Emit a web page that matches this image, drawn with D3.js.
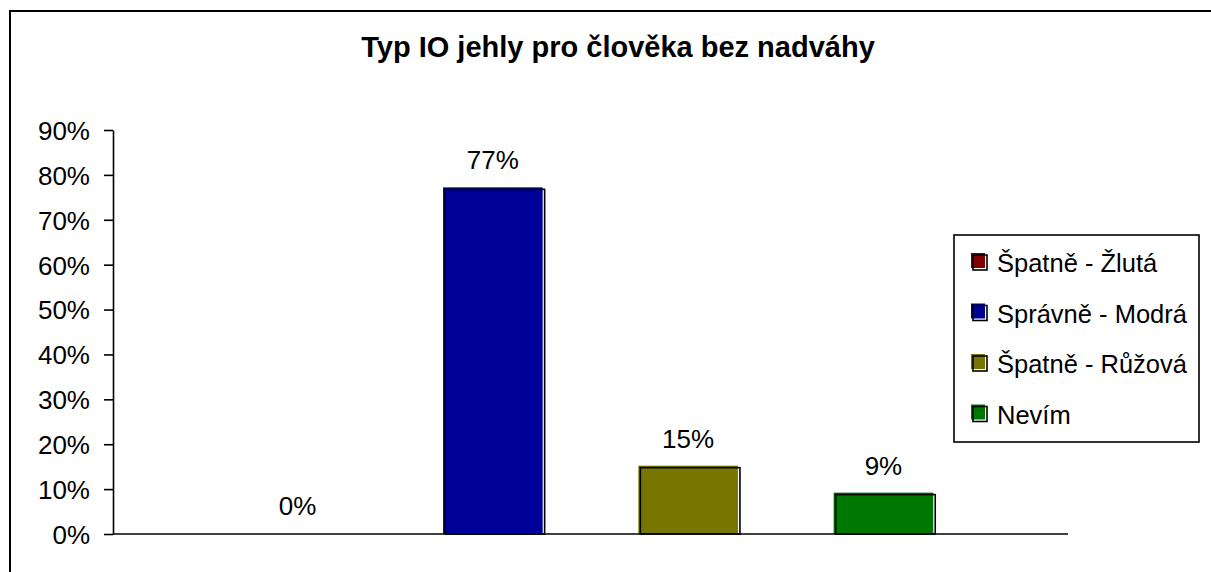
<!DOCTYPE html>
<html>
<head>
<meta charset="utf-8">
<script src="https://cdn.jsdelivr.net/npm/d3@7"></script>
<style>
  html, body { margin: 0; padding: 0; background: #fff; }
  svg { display: block; }
  text { font-family: "Liberation Sans", Arial, sans-serif; fill: #000; }
</style>
</head>
<body>
<svg id="chart" width="1211" height="572"></svg>
<script>
// Survey answers: which IO needle for a person without excess weight
const series = ["Špatně - Žlutá", "Správně - Modrá", "Špatně - Růžová", "Nevím"];
const values = [0, 77, 15, 9];
const colors = ["#800000", "#000099", "#777700", "#007700"];
const yTicks = [0, 10, 20, 30, 40, 50, 60, 70, 80, 90];
const title = "Typ IO jehly pro člověka bez nadváhy";

const svg = d3.select("#chart");
const W = 1211, H = 572;
const plot = { left: 113, right: 1068, top: 130, bottom: 534 };

// outer chart frame (runs off the right and bottom edges)
svg.append("rect")
  .attr("x", 10).attr("y", 11)
  .attr("width", W + 40).attr("height", H + 40)
  .attr("fill", "none").attr("stroke", "#000").attr("stroke-width", 2);

svg.append("text")
  .attr("x", 618).attr("y", 57)
  .attr("text-anchor", "middle")
  .style("font-size", "29px").style("font-weight", "bold")
  .text(title);

const y = d3.scaleLinear().domain([0, 90]).range([plot.bottom, plot.top]);
const x = d3.scaleBand().domain(series)
  .range([plot.left, plot.right])
  .paddingInner(0.49).paddingOuter(0.69);

// y axis
const yAxis = svg.append("g")
  .attr("transform", `translate(${plot.left},0)`)
  .call(d3.axisLeft(y).tickValues(yTicks)
    .tickFormat(d => d + "%").tickSize(9).tickSizeOuter(0).tickPadding(14));
yAxis.select(".domain").attr("stroke", "#000").attr("stroke-width", 1.6);
yAxis.selectAll(".tick line").attr("stroke", "#000").attr("stroke-width", 1.6);
yAxis.selectAll(".tick text")
  .attr("dy", "0.36em")
  .style("font-size", "26px")
  .attr("font-family", null);

// bars: coloured fill with a black outline set slightly down and right
const bars = svg.append("g");
series.forEach((s, i) => {
  const v = values[i];
  if (v <= 0) return;
  const bx = x(s), bw = x.bandwidth();
  bars.append("rect")
    .attr("x", bx).attr("y", y(v) - 1)
    .attr("width", bw).attr("height", y(0) - y(v) + 1)
    .attr("fill", colors[i]);
  bars.append("rect")
    .attr("x", bx + 2).attr("y", y(v) + 1)
    .attr("width", bw).attr("height", y(0) - y(v) - 1)
    .attr("fill", "none").attr("stroke", "#000").attr("stroke-width", 1.6);
});

// x axis baseline
svg.append("line")
  .attr("x1", plot.left).attr("x2", plot.right)
  .attr("y1", y(0)).attr("y2", y(0))
  .attr("stroke", "#000").attr("stroke-width", 1.6);

// value labels
svg.append("g").selectAll("text")
  .data(series)
  .join("text")
  .attr("x", d => x(d) + x.bandwidth() / 2)
  .attr("y", (d, i) => y(values[i]) - 19)
  .attr("text-anchor", "middle")
  .style("font-size", "26px")
  .text((d, i) => values[i] + "%");

// legend
const lg = svg.append("g");
lg.append("rect")
  .attr("x", 954).attr("y", 235).attr("width", 245).attr("height", 207)
  .attr("fill", "#fff").attr("stroke", "#000").attr("stroke-width", 1.6);
series.forEach((s, i) => {
  const base = 272 + i * 50.5;
  lg.append("rect")
    .attr("x", 971).attr("y", base - 19).attr("width", 14).attr("height", 15)
    .attr("fill", colors[i]);
  lg.append("rect")
    .attr("x", 973).attr("y", base - 17).attr("width", 14).attr("height", 15)
    .attr("fill", "none").attr("stroke", "#000").attr("stroke-width", 1.6);
  lg.append("text")
    .attr("x", 997).attr("y", base)
    .style("font-size", "25.5px")
    .text(s);
});
</script>
</body>
</html>
